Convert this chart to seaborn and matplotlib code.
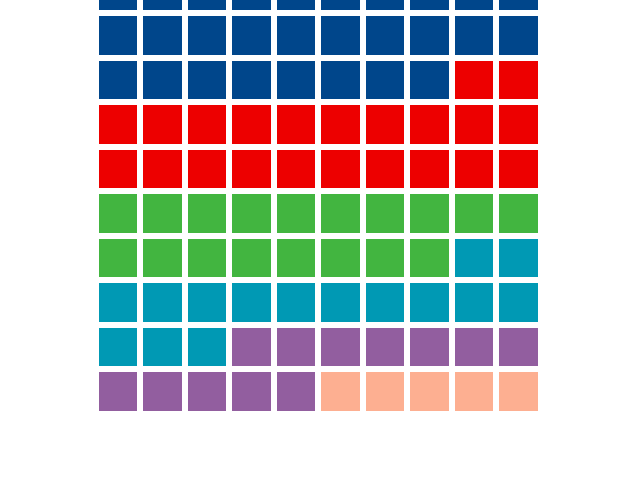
import numpy as np
import pandas as pd
import matplotlib
matplotlib.use("Agg")
import matplotlib.pyplot as plt
import seaborn as sns
from matplotlib.colors import ListedColormap

categories = ["A", "B", "C", "D", "E", "F"]
counts = [28, 22, 18, 15, 12, 5]
colors = ["#00468B", "#ED0000", "#42B540", "#0099B4", "#925E9F", "#FDAF91"]
n_rows, n_cols = 10, 10

codes = np.repeat(np.arange(len(categories)), counts)
grid = pd.DataFrame(codes.reshape(n_rows, n_cols))

fig = plt.figure(figsize=(6.4, 4.8), dpi=100)
ax = fig.add_axes([95.7 / 640, (480 - 413.7) / 480, 445 / 640, 445 / 480])
sns.heatmap(grid, ax=ax, cmap=ListedColormap(colors), vmin=-0.5, vmax=len(categories) - 0.5,
            cbar=False, linewidths=4.2, linecolor="white",
            xticklabels=False, yticklabels=False, square=False)
ax.set_xlabel("")
ax.set_ylabel("")
for s in ax.spines.values():
    s.set_visible(False)
fig.savefig("out.png", dpi=100, facecolor="white")
